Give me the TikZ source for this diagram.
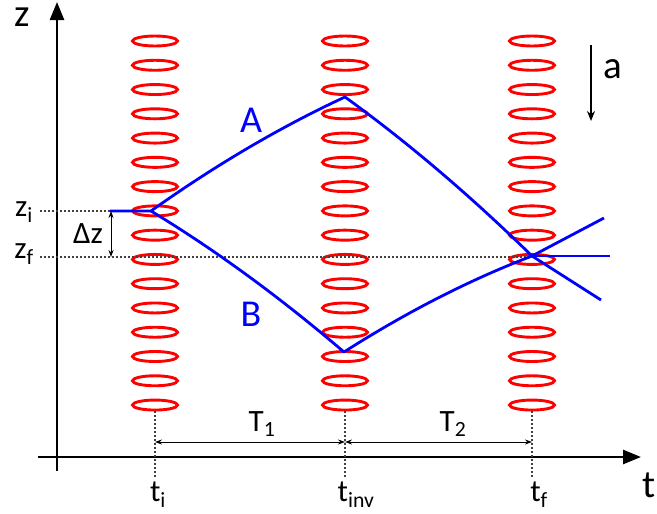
\documentclass[tikz,border=0pt]{standalone}
\usepackage{fontspec}
\setmainfont{Carlito}
\usetikzlibrary{arrows.meta,shapes.geometric}
\begin{document}
\begin{tikzpicture}[x=1pt,y=-1pt,
  ring/.style={draw=red, line width=2.9pt, ellipse, minimum width=45pt, minimum height=10pt, inner sep=0pt},
  traj/.style={draw=blue, line width=2.8pt, line join=round},
  axis/.style={line width=2.6pt, -{Triangle[length=18pt,width=14pt]}},
  guide/.style={draw=black!75, line width=1.1pt, dash pattern=on 2pt off 2pt},
  dim/.style={line width=0.9pt, {Stealth[length=7pt,width=5pt]}-{Stealth[length=7pt,width=5pt]}},
  big/.style={font=\fontsize{39}{41}\selectfont, inner sep=0pt},
  mid/.style={font=\fontsize{31}{33}\selectfont, inner sep=0pt},
  pathlbl/.style={font=\fontsize{38}{40}\selectfont, inner sep=0pt, text=blue},
]
\useasboundingbox (0,0) rectangle (657,514);
% axes
\coordinate (zb) at (57,471);
\coordinate (zt) at (57,2);
\coordinate (tl) at (38,457);
\coordinate (tr) at (641,457);
\draw[axis] (zb) -- (zt);
\draw[axis] (tl) -- (tr);
% rings
\foreach \c/\x in {1/155,2/345,3/532}{
  \foreach \k in {0,...,15}{
    \node[ring] (r\c-\k) at (\x,41+\k*24.27) {};
  }
}
% key points
\coordinate (start) at (110,211);
\coordinate (split) at (151,211);
\coordinate (top) at (345,97);
\coordinate (bot) at (344,352);
\coordinate (cross) at (532,256);
\coordinate (outup) at (604,218);
\coordinate (outdn) at (601,300);
\coordinate (outh) at (610,256);
% guides
\coordinate (zil) at (40,211);
\coordinate (zfl) at (40,257);
\coordinate (zfr) at (532,257);
\draw[guide] (zil) -- (start);
\draw[guide] (zfl) -- (zfr);
\foreach \c/\x in {1/155,2/345,3/532}{
  \coordinate (vt\c) at (\x,411);
  \coordinate (vb\c) at (\x,478);
  \draw[guide] (vt\c) -- (vb\c);
}
% trajectories
\draw[traj] (start) -- (split)
  .. controls (215.7,165) and (280.3,127) .. (top)
  .. controls (407.3,142) and (469.7,195) .. (cross) -- (outdn);
\draw[traj] (split)
  .. controls (215.3,250) and (279.7,297) .. (bot)
  .. controls (406.7,312) and (469.3,280) .. (cross) -- (outup);
\draw[traj] (cross) -- (outh);
% dimension arrows
\coordinate (dzt) at (111,211);
\coordinate (dzb) at (111,257);
\draw[dim] (dzt) -- (dzb);
\coordinate (T1a) at (155,442);
\coordinate (T1b) at (345,442);
\coordinate (T2b) at (532,442);
\draw[dim] (T1a) -- (T1b);
\draw[dim] (T1b) -- (T2b);
% acceleration arrow
\coordinate (aa) at (591,45);
\coordinate (ab) at (591,121);
\draw[line width=1.3pt, -{Stealth[length=10pt,width=8pt]}] (aa) -- (ab);
% labels
\node[big, anchor=base] (lz) at (22,27) {z};
\node[big] (lt) at (649,485) {t};
\node[big] (la) at (613,69) {a};
\node[pathlbl] (lA) at (251,120) {A};
\node[pathlbl] (lB) at (251,314) {B};
\node[mid, anchor=base] (lzi) at (24,216) {z\textsubscript{i}};
\node[mid, anchor=base] (lzf) at (24,258) {z\textsubscript{f}};
\node[mid] (ldz) at (88,234) {Δz};
\node[mid, anchor=base] (lT1) at (262,431) {T\textsubscript{1}};
\node[mid, anchor=base] (lT2) at (453,431) {T\textsubscript{2}};
\node[mid, anchor=base] (lti) at (158,501) {t\textsubscript{i}};
\node[mid, anchor=base] (ltinv) at (356,501) {t\textsubscript{inv}};
\node[mid, anchor=base] (ltf) at (539,501) {t\textsubscript{f}};
\end{tikzpicture}
\end{document}
